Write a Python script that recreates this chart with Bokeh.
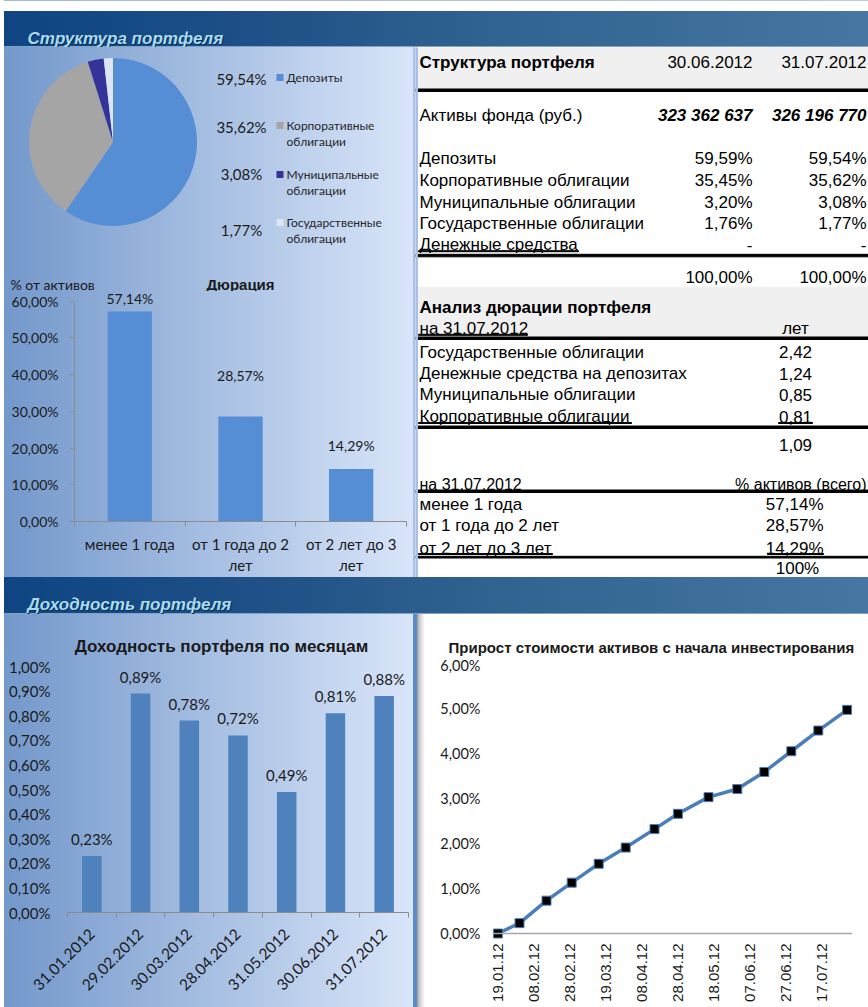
import numpy as np
from math import pi
from datetime import datetime
from bokeh.plotting import figure
from bokeh.layouts import column, row
from bokeh.models import (Range1d, FixedTicker, ColumnDataSource, LabelSet,
                          CustomJSTickFormatter, Span)
from bokeh.core.properties import value
from bokeh.embed import file_html
from bokeh.resources import INLINE

# ---------------- data ----------------
struct_labels = ["Депозиты", "Корпоративные облигации", "Муниципальные облигации",
                 "Государственные облигации"]
struct_share = [59.54, 35.62, 3.08, 1.77]
struct_colors = ["#558ed5", "#a5a5a5", "#333399", "#dce6f2"]

table_title = "Структура портфеля"
table_dates = ["30.06.2012", "31.07.2012"]
table_assets_label = "Активы фонда (руб.)"
table_assets = ["323 362 637", "326 196 770"]
table_rows = ["Депозиты", "Корпоративные облигации", "Муниципальные облигации",
              "Государственные облигации", "Денежные средства"]
table_0630 = ["59,59%", "35,45%", "3,20%", "1,76%", "-"]
table_0731 = ["59,54%", "35,62%", "3,08%", "1,77%", "-"]
table_total = ["100,00%", "100,00%"]

dur_table_title = "Анализ дюрации портфеля"
dur_table_date = "на 31.07.2012"
dur_table_rows = ["Государственные облигации", "Денежные средства на депозитах",
                  "Муниципальные облигации", "Корпоративные облигации"]
dur_table_years = ["2,42", "1,24", "0,85", "0,81"]
dur_table_total = "1,09"
dist_rows = ["менее 1 года", "от 1 года до 2 лет", "от 2 лет до 3 лет"]
dist_total = "100%"

dur_categories = ["менее 1 года", "от 1 года до 2 лет", "от 2 лет до 3 лет"]
dur_values = [57.14, 28.57, 14.29]
dur_label_pos = [60.7, 39.7, 20.8]          # where the value labels sit (in % units)
dur_ticks = [0, 10, 20, 30, 40, 50, 60]

month_dates = ["31.01.2012", "29.02.2012", "30.03.2012", "28.04.2012",
               "31.05.2012", "30.06.2012", "31.07.2012"]
month_returns = [0.23, 0.89, 0.78, 0.72, 0.49, 0.81, 0.88]
month_ticks = [0.0, 0.1, 0.2, 0.3, 0.4, 0.5, 0.6, 0.7, 0.8, 0.9, 1.0]

growth_dates = ["19.01.2012", "31.01.2012", "15.02.2012", "29.02.2012", "15.03.2012",
                "30.03.2012", "15.04.2012", "28.04.2012", "15.05.2012", "31.05.2012",
                "15.06.2012", "30.06.2012", "15.07.2012", "31.07.2012"]
growth_values = [0.00, 0.23, 0.73, 1.13, 1.55, 1.91, 2.32, 2.66, 3.03, 3.21,
                 3.59, 4.05, 4.51, 4.97]
growth_tick_labels = ["19.01.12", "08.02.12", "28.02.12", "19.03.12", "08.04.12",
                      "28.04.12", "18.05.12", "07.06.12", "27.06.12", "17.07.12"]
growth_ticks = [0, 1, 2, 3, 4, 5, 6]

# ---------------- styling ----------------
ARIAL = "Liberation Sans"
CAL = "Lato"
L_W, R_W = 415, 453
TOT_W = L_W + R_W
LEFT_GRAD = ("linear-gradient(to right, #ffffff 0px, #ffffff 4px, #7398cb 4px, "
             "#d9e5f9 413px, #a9bfe6 413px, #a9bfe6 415px)")
LEFT_GRAD2 = ("linear-gradient(to right, #ffffff 0px, #ffffff 4px, #7398cb 4px, "
              "#d9e5f9 413px, #5b8bc9 413px, #5b8bc9 415px)")
RIGHT_SHADOW = ("linear-gradient(to right, #5b8bc9 0px, #5b8bc9 2px, #9c9c9c 2px, "
                "#d4d4d4 5px, #ffffff 10px)")
HEAD_GRAD = ("linear-gradient(to right, #ffffff 0px, #ffffff 4px, #0e4582 4px, "
             "#1f5087 260px, #30628f 480px, #4677a2 868px)")
PCT_JS = "return tick.toFixed(2).replace('.', ',') + '%';"


def pct(v):
    return f"{v:.2f}".replace(".", ",") + "%"


def wrap(s, n=14):
    if len(s) > n and " " in s:
        a, b = s.rsplit(" ", 1)
        return a + "\n" + b
    return s


def transparent(p, css):
    p.background_fill_alpha = 0
    p.border_fill_alpha = 0
    p.styles = {"background": css}


def blank(w, h, css=None):
    p = figure(width=w, height=h, x_range=Range1d(0, w), y_range=Range1d(0, h),
               x_axis_type=None, y_axis_type=None, toolbar_location=None,
               output_backend="svg", min_border=0, frame_align=False)
    p.outline_line_color = None
    if css:
        transparent(p, css)
    return p


def txt(p, H, x, ytop, s, font=ARIAL, size="17px", style="normal", align="left",
        color="#000000", baseline="middle"):
    p.text(x=[x], y=[H - ytop], text=[s], text_font=value(font), text_font_size=size,
           text_font_style=style, text_align=align, text_baseline=baseline,
           text_color=color)


def header(title, h, white_top, mid_top):
    p = blank(TOT_W, h, css=HEAD_GRAD)
    if white_top:
        p.quad(left=0, right=TOT_W, bottom=h - white_top, top=h, color="white")
    p.quad(left=4, right=TOT_W, bottom=0, top=1, color="#7fa2c8")
    txt(p, h, 28, mid_top + 1, title, size="17px", style="bold italic", color="#0a2c52")
    txt(p, h, 27, mid_top, title, size="17px", style="bold italic", color="#a9dcf0")
    return p


# ---------------- header 1 (ref y 0..47) ----------------
head1 = header("Структура портфеля", 47, 10, 37.5)

# ---------------- pie + legend (ref y 47..291) ----------------
PH = 244
pie = blank(L_W, PH, css=LEFT_GRAD)
share = np.array(struct_share) / sum(struct_share)
cum = np.concatenate([[0.0], np.cumsum(share)])
pie.wedge(x=112.5, y=PH - 94.5, radius=84,
          start_angle=list(pi / 2 - 2 * pi * cum[:-1]),
          end_angle=list(pi / 2 - 2 * pi * cum[1:]),
          direction="clock", fill_color=struct_colors, line_color=None)
val_tops = [31, 79, 126, 182]
lab_tops = [30, 78, 127, 175]
for i, lab in enumerate(struct_labels):
    txt(pie, PH, 241, val_tops[i], pct(struct_share[i]), font=CAL, size="15px",
        align="center", color="#1a1a1a")
    pie.rect(x=[279.5], y=[PH - lab_tops[i]], width=7, height=7,
             fill_color=struct_colors[i], line_color=None)
    for j, line in enumerate(wrap(lab, 10).split("\n")):
        txt(pie, PH, 286, lab_tops[i] + 16 * j, line, font=CAL, size="12px",
            color="#262626")
txt(pie, PH, 10, 236.5, "% от активов", font=CAL, size="14px", color="#1a1a1a")
txt(pie, PH, 240, 236.5, "Дюрация", font=ARIAL, size="15px", style="bold",
    align="center", color="#1a1a1a")

# ---------------- duration bar chart (ref y 291..577) ----------------
DH = 286
D_SCALE = (523 - 300.7) / 60.0
dur = figure(width=L_W, height=DH, x_range=Range1d(0, len(dur_categories)),
             y_range=Range1d(0, (523 - 291) / D_SCALE), toolbar_location=None,
             output_backend="svg", frame_align=False,
             min_border_left=74, min_border_right=9, min_border_top=0,
             min_border_bottom=54)
transparent(dur, LEFT_GRAD)
dur.outline_line_color = None
dur.grid.visible = False
centers = [i + 0.5 for i in range(len(dur_categories))]
dur.vbar(x=centers, top=dur_values, width=0.4, fill_color="#558ed5", line_color=None)
dur.add_layout(LabelSet(x="x", y="y", text="t",
                        source=ColumnDataSource(dict(x=centers, y=dur_label_pos,
                                                     t=[pct(v) for v in dur_values])),
                        text_align="center", text_baseline="middle",
                        text_font=value(CAL), text_font_size="14px", text_color="#1a1a1a"))
dur.xaxis.ticker = FixedTicker(ticks=centers, minor_ticks=list(range(len(dur_categories) + 1)))
dur.xaxis.major_label_overrides = {c: wrap(s) for c, s in zip(centers, dur_categories)}
dur.yaxis.ticker = FixedTicker(ticks=dur_ticks)
dur.yaxis.formatter = CustomJSTickFormatter(code=PCT_JS)
dur.yaxis.bounds = (0, 60)
for ax in (dur.xaxis, dur.yaxis):
    ax.axis_line_color = "#8c8c8c"
    ax.major_tick_line_color = "#8c8c8c"
    ax.minor_tick_line_color = "#8c8c8c"
    ax.major_label_text_font = CAL
    ax.major_label_text_color = "#1a1a1a"
dur.xaxis.major_label_text_font_size = "15px"
dur.yaxis.major_label_text_font_size = "14px"
dur.xaxis.major_tick_out = 0
dur.xaxis.major_tick_in = 0
dur.xaxis.minor_tick_out = 5
dur.xaxis.minor_tick_in = 0
dur.xaxis.major_label_standoff = 8
dur.yaxis.major_tick_out = 5
dur.yaxis.major_tick_in = 0
dur.yaxis.minor_tick_out = 0
dur.yaxis.major_label_standoff = 11

# ---------------- right table (ref y 47..577) ----------------
TH = 530
tab = blank(R_W, TH)
C1, C2 = 337, 451
DUR_C, DIST_R = 380, 408


def band(t0, t1, color, left=0, right=R_W):
    tab.quad(left=left, right=right, bottom=TH - t1, top=TH - t0, color=color)


band(0, 41, "#f0f0f0")
band(239.7, 289, "#f0f0f0")
for t0, t1 in [(41.5, 44), (206.8, 209.3), (289.5, 292), (378.5, 381), (442.5, 445),
               (508.8, 510.5)]:
    band(t0, t1, "#000000")
# single underlines of some cells
for l, r, t in [(3, 163, 203.2), (3, 112, 286.8), (3, 216, 375), (363, 397, 375),
                (3, 137, 506), (352, 408, 506)]:
    band(t, t + 1, "#000000", l, r)
tab.quad(left=0, right=2, bottom=0, top=TH, color="#a9bfe6")

txt(tab, TH, 4, 14.7, table_title, style="bold")
txt(tab, TH, C1, 14.7, table_dates[0], align="right")
txt(tab, TH, C2, 14.7, table_dates[1], align="right")
txt(tab, TH, 4, 68, table_assets_label)
txt(tab, TH, C1, 68, table_assets[0], align="right", style="bold italic")
txt(tab, TH, C2, 68, table_assets[1], align="right", style="bold italic")
row_tops = [110.5, 133, 155.3, 176.3, 197]
for i, r in enumerate(table_rows):
    txt(tab, TH, 4, row_tops[i], r)
    txt(tab, TH, C1, row_tops[i], table_0630[i], align="right")
    txt(tab, TH, C2, row_tops[i], table_0731[i], align="right")
txt(tab, TH, C1, 230.3, table_total[0], align="right")
txt(tab, TH, C2, 230.3, table_total[1], align="right")

txt(tab, TH, 4, 259.7, dur_table_title, style="bold")
txt(tab, TH, 4, 281.3, dur_table_date)
txt(tab, TH, DUR_C, 281.3, "лет", align="center")
dur_tops = [304.7, 326.3, 347.3, 369]
for i, r in enumerate(dur_table_rows):
    txt(tab, TH, 4, dur_tops[i], r)
    txt(tab, TH, DUR_C, dur_tops[i], dur_table_years[i], align="center")
txt(tab, TH, DUR_C, 397.3, dur_table_total, align="center")
txt(tab, TH, 4, 437.3, dur_table_date, size="16px")
txt(tab, TH, C2, 437.3, "% активов (всего)", align="right", size="16px")
dist_tops = [457.3, 478, 501.3]
for i, r in enumerate(dist_rows):
    txt(tab, TH, 4, dist_tops[i], r)
    txt(tab, TH, DIST_R, dist_tops[i], pct(dur_values[i]), align="right")
txt(tab, TH, DUR_C + 2, 520.5, dist_total, align="center")

# ---------------- header 2 (ref y 577..614) ----------------
head2 = header("Доходность портфеля", 37, 0, 27)

# ---------------- monthly returns (ref y 614..1007) ----------------
mon_title = blank(L_W, 42, css=LEFT_GRAD2)
txt(mon_title, 42, 221, 32, "Доходность портфеля по месяцам", size="17px",
    style="bold", align="center", color="#1a1a1a")

MH = 351
mon = figure(width=L_W, height=MH, x_range=Range1d(0, len(month_dates)),
             y_range=Range1d(0, 1.0), toolbar_location=None, output_backend="svg",
             frame_align=False, min_border_left=67, min_border_right=7,
             min_border_top=10, min_border_bottom=95)
transparent(mon, LEFT_GRAD2)
mon.outline_line_color = None
mon.grid.visible = False
mc = [i + 0.5 for i in range(len(month_dates))]
mon.vbar(x=mc, top=month_returns, width=0.4, fill_color="#4f81bd", line_color=None)
mon.add_layout(LabelSet(x="x", y="y", text="t", y_offset=17,
                        source=ColumnDataSource(dict(x=mc, y=month_returns,
                                                     t=[pct(v) for v in month_returns])),
                        text_align="center", text_baseline="middle",
                        text_font=value(CAL), text_font_size="15px", text_color="#1a1a1a"))
mon.xaxis.ticker = FixedTicker(ticks=mc, minor_ticks=list(range(len(month_dates) + 1)))
mon.xaxis.major_label_overrides = {c: s for c, s in zip(mc, month_dates)}
mon.xaxis.major_label_orientation = pi / 4
mon.yaxis.ticker = FixedTicker(ticks=month_ticks)
mon.yaxis.formatter = CustomJSTickFormatter(code=PCT_JS)
for ax in (mon.xaxis, mon.yaxis):
    ax.major_label_text_font = CAL
    ax.major_label_text_color = "#1a1a1a"
mon.xaxis.major_label_text_font_size = "15.5px"
mon.yaxis.major_label_text_font_size = "15px"
mon.xaxis.axis_line_color = "#8c8c8c"
mon.xaxis.minor_tick_line_color = "#8c8c8c"
mon.xaxis.major_tick_out = 0
mon.xaxis.major_tick_in = 0
mon.xaxis.minor_tick_out = 5
mon.xaxis.minor_tick_in = 0
mon.xaxis.major_label_standoff = 14
mon.yaxis.axis_line_color = None
mon.yaxis.major_tick_line_color = None
mon.yaxis.minor_tick_line_color = None
mon.yaxis.major_tick_out = 0
mon.yaxis.major_tick_in = 0
mon.yaxis.major_label_standoff = 17

# ---------------- cumulative growth (ref x 415..868, y 614..1007) ----------------
gro_title = blank(R_W, 42, css=RIGHT_SHADOW)
txt(gro_title, 42, 33, 32.5, "Прирост стоимости активов с начала инвестирования",
    size="15px", style="bold", color="#1a1a1a")

d0 = datetime.strptime(growth_dates[0], "%d.%m.%Y")
gx = [(datetime.strptime(s, "%d.%m.%Y") - d0).days for s in growth_dates]
tx = [(datetime.strptime(s, "%d.%m.%y") - d0).days for s in growth_tick_labels]
G_PAD = 7 / 45
gro = figure(width=R_W, height=MH, x_range=Range1d(-3, 197),
             y_range=Range1d(-G_PAD, 6 + G_PAD), toolbar_location=None,
             output_backend="svg", frame_align=False,
             min_border_left=77, min_border_right=16, min_border_top=0,
             min_border_bottom=67)
transparent(gro, RIGHT_SHADOW)
gro.outline_line_color = None
gro.grid.visible = False
gro.add_layout(Span(location=0, dimension="width", line_color="#a6a6a6", line_width=1.5))
gro.line(gx, growth_values, line_color="#4a7ebb", line_width=3.5)
gro.scatter(gx, growth_values, marker="square", size=9, fill_color="#000000",
            line_color="#4a7ebb", line_width=1)
gro.xaxis.ticker = FixedTicker(ticks=tx)
gro.xaxis.major_label_overrides = {t: s for t, s in zip(tx, growth_tick_labels)}
gro.xaxis.major_label_orientation = pi / 2
gro.yaxis.ticker = FixedTicker(ticks=growth_ticks)
gro.yaxis.formatter = CustomJSTickFormatter(code=PCT_JS)
for ax in (gro.xaxis, gro.yaxis):
    ax.axis_line_color = None
    ax.major_tick_line_color = None
    ax.minor_tick_line_color = None
    ax.major_tick_out = 0
    ax.major_tick_in = 0
    ax.major_label_text_color = "#1a1a1a"
gro.xaxis.major_label_text_font = ARIAL
gro.xaxis.major_label_text_font_size = "15px"
gro.xaxis.major_label_standoff = 3
gro.yaxis.major_label_text_font = CAL
gro.yaxis.major_label_text_font_size = "14.5px"
gro.yaxis.major_label_standoff = 12

layout = column(head1, row(column(pie, dur), tab), head2,
                row(column(mon_title, mon), column(gro_title, gro)))
open("out.html", "w").write(file_html(layout, INLINE))
